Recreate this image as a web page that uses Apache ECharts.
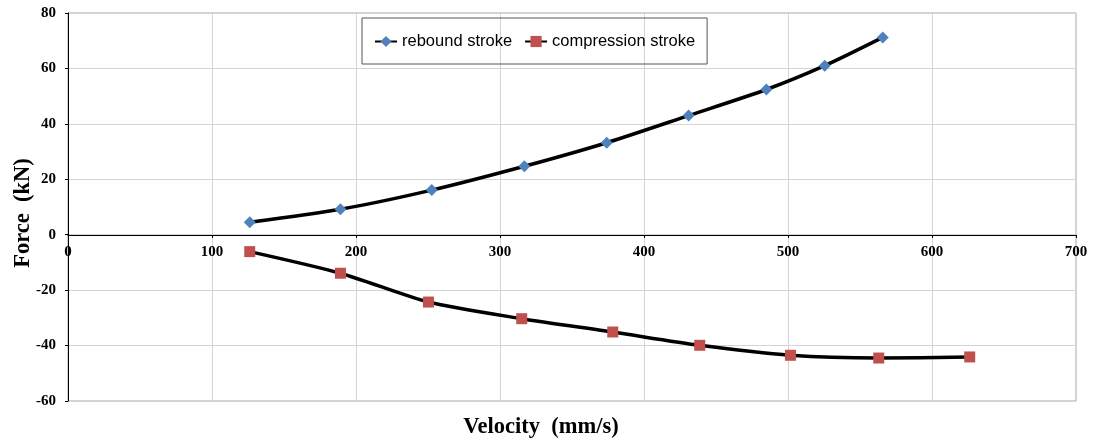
<!DOCTYPE html>
<html>
<head>
<meta charset="utf-8">
<script src="https://cdn.jsdelivr.net/npm/echarts@6/dist/echarts.min.js"></script>
<style>html,body{margin:0;padding:0;background:#fff;}#chart{width:1093px;height:443px;}</style>
</head>
<body>
<div id="chart"></div>
<script>
const reboundVelocity = [126.2, 189.2, 252.6, 316.9, 374.1, 431.0, 485.0, 525.5, 565.8];
const reboundForce = [4.5, 9.2, 16.1, 24.7, 33.2, 43.0, 52.4, 61.0, 71.2];
const compressionVelocity = [126.2, 189.2, 250.3, 315.1, 378.3, 438.7, 501.7, 563.0, 626.2];
const compressionForce = [-6.1, -13.9, -24.3, -30.3, -35.1, -39.9, -43.5, -44.5, -44.1];
const seriesNames = ['rebound stroke', 'compression stroke'];
const xTitle = 'Velocity  (mm/s)';
const yTitle = 'Force  (kN)';

const zip = (a, b) => a.map((v, i) => [v, b[i]]);
const serif = '"Liberation Serif", "Times New Roman", serif';
const chart = echarts.init(document.getElementById('chart'), null, {renderer: 'canvas'});
chart.setOption({
  animation: false,
  backgroundColor: '#fff',
  grid: {left: 68, right: 17, top: 13, bottom: 42, show: true, borderColor: '#a6a6a6', borderWidth: 1, containLabel: false},
  legend: {
    left: 362, top: 18,
    padding: [15, 12, 14, 12],
    borderColor: '#555', borderWidth: 1,
    itemWidth: 22, itemHeight: 14, itemGap: 12,
    textStyle: {fontFamily: '"Liberation Sans", Arial, sans-serif', fontSize: 16.5, color: '#000'},
    data: seriesNames
  },
  xAxis: {
    type: 'value', min: 0, max: 700, interval: 100,
    position: 'bottom', offset: -166,
    axisLine: {onZero: false, lineStyle: {color: '#000', width: 1}},
    axisTick: {show: true, length: 3, lineStyle: {color: '#000'}},
    axisLabel: {fontFamily: serif, fontWeight: 'bold', fontSize: 15, color: '#000', margin: 10},
    splitLine: {show: true, lineStyle: {color: '#d4d4d4', width: 1}}
  },
  yAxis: {
    type: 'value', min: -60, max: 80, interval: 20,
    axisLine: {show: true, onZero: false, lineStyle: {color: '#000', width: 1}},
    axisTick: {show: true, length: 3, lineStyle: {color: '#000'}},
    axisLabel: {fontFamily: serif, fontWeight: 'bold', fontSize: 15, color: '#000', margin: 12},
    splitLine: {show: true, lineStyle: {color: '#d4d4d4', width: 1}}
  },
  graphic: [
    {type: 'text', x: 541, y: 427, style: {text: xTitle, font: 'bold 22.5px ' + serif, fill: '#000', align: 'center', verticalAlign: 'middle'}},
    {type: 'text', x: 23, y: 213, rotation: Math.PI / 2, style: {text: yTitle, font: 'bold 22.5px ' + serif, fill: '#000', align: 'center', verticalAlign: 'middle'}}
  ],
  series: [
    {
      name: seriesNames[0], type: 'line', data: zip(reboundVelocity, reboundForce),
      smooth: 0.25, symbol: 'diamond', symbolSize: 12,
      lineStyle: {color: '#000', width: 3.5},
      itemStyle: {color: '#4F81BD'}
    },
    {
      name: seriesNames[1], type: 'line', data: zip(compressionVelocity, compressionForce),
      smooth: 0.25, symbol: 'rect', symbolSize: 11,
      lineStyle: {color: '#000', width: 3.5},
      itemStyle: {color: '#C0504D'}
    }
  ]
});
</script>
</body>
</html>
